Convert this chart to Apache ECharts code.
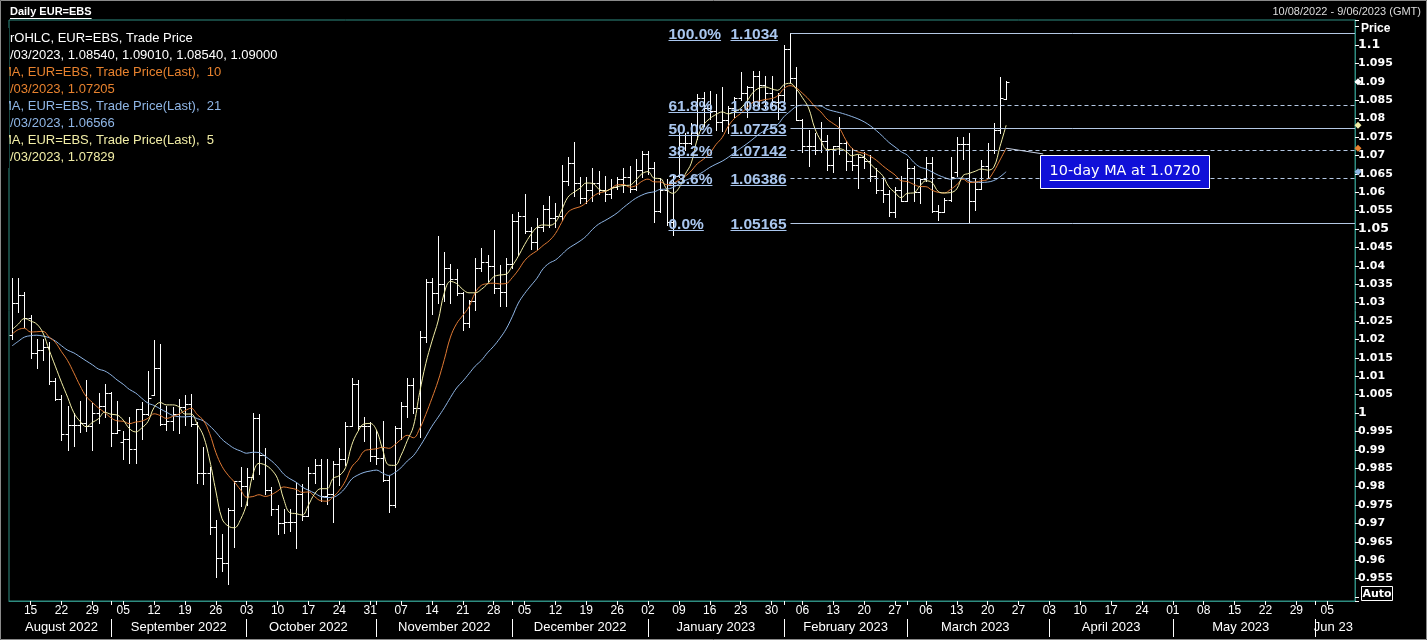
<!DOCTYPE html>
<html><head><meta charset="utf-8">
<script src="https://cdn.jsdelivr.net/npm/echarts/dist/echarts.min.js"></script>
<style>html,body{margin:0;padding:0;background:#000;}#c{width:1427px;height:640px;}</style>
</head><body><div id="c"></div>
<script>
// ---------- DATA ----------
// closes of the 20 trading days before 10 Aug 2022 (needed for the moving averages)
const priorCloses = [1.0062,1.0019,1.0080,1.0142,1.0226,1.0179,1.0230,1.0212,1.0222,1.0120,1.0198,1.0196,1.0223,1.0261,1.0163,1.0166,1.0245,1.0181,1.0196,1.0212];

const opens = [
 1.0212,1.0298,1.0320,1.0258,1.0162,1.0170,1.0178,1.0088,1.0038,0.9943,0.9966,0.9968,0.9972,0.9965,1.0000,1.0018,
 1.0055,0.9945,0.9920,0.9930,0.9903,1.0010,0.9998,1.0050,1.0122,0.9970,0.9978,0.9998,1.0015,1.0025,0.9970,0.9837,0.9838,0.9690,0.9606,0.9593,0.9736,0.9815,
 0.9802,0.9825,0.9986,0.9887,0.9792,0.9740,0.9702,0.9705,0.9705,0.9780,0.9720,0.9838,0.9858,0.9775,0.9780,0.9860,0.9876,0.9965,1.0080,0.9965,0.9965,
 0.9883,0.9877,0.9818,0.9750,0.9960,1.0020,1.0075,1.0013,1.0207,1.0355,1.0325,1.0350,1.0395,1.0363,1.0325,1.0245,1.0305,1.0395,1.0410,1.0400,1.0340,1.0330,
 1.0405,1.0522,1.0535,1.0495,1.0465,1.0505,1.0555,1.0530,1.0535,1.0630,1.0680,1.0625,1.0585,1.0605,1.0625,1.0605,1.0595,1.0615,1.0635,1.0640,1.0610,1.0660,
 1.0705,1.0665,1.0550,1.0605,1.0520,1.0645,1.0735,1.0735,1.0760,1.0855,1.0830,1.0820,1.0790,1.0795,1.0830,1.0855,1.0870,1.0885,1.0915,1.0890,1.0870,1.0845,
 1.0865,1.0990,1.0910,1.0795,1.0725,1.0725,1.0715,1.0740,1.0675,1.0725,1.0735,1.0685,1.0675,1.0695,1.0685,1.0645,1.0605,1.0595,1.0545,1.0605,
 1.0575,1.0665,1.0600,1.0635,1.0680,1.0550,1.0545,1.0580,1.0656,1.0730,1.0730,1.0575,1.0610,1.0670,1.0715,1.0770,1.0854];
const highs = [
 1.0368,1.0368,1.0328,1.0267,1.0202,1.0202,1.0192,1.0096,1.0048,1.0018,0.9999,1.0033,1.0090,1.0028,1.0054,1.0080,
 1.0056,1.0033,0.9950,0.9990,1.0012,1.0030,1.0113,1.0198,1.0187,1.0020,1.0017,1.0037,1.0050,1.0051,0.9976,0.9907,0.9852,0.9710,0.9670,0.9743,0.9815,0.9854,
 0.9850,0.9999,0.9998,0.9904,0.9798,0.9750,0.9740,0.9740,0.9809,0.9807,0.9852,0.9875,0.9875,0.9875,0.9870,0.9905,0.9976,1.0094,1.0089,0.9990,0.9975,
 0.9955,0.9977,0.9830,0.9965,1.0030,1.0095,1.0095,1.0222,1.0365,1.0366,1.0481,1.0438,1.0405,1.0390,1.0330,1.0306,1.0420,1.0448,1.0430,1.0497,1.0403,1.0420,
 1.0540,1.0545,1.0595,1.0505,1.0530,1.0565,1.0590,1.0570,1.0673,1.0695,1.0737,1.0640,1.0640,1.0665,1.0657,1.0645,1.0635,1.0640,1.0665,1.0670,1.0690,1.0713,
 1.0713,1.0683,1.0639,1.0636,1.0650,1.0760,1.0760,1.0787,1.0868,1.0873,1.0875,1.0867,1.0887,1.0835,1.0860,1.0927,1.0888,1.0930,1.0930,1.0915,1.0915,1.0870,
 1.1000,1.1033,1.0940,1.0800,1.0769,1.0760,1.0790,1.0755,1.0725,1.0805,1.0740,1.0720,1.0700,1.0710,1.0700,1.0665,1.0640,1.0605,1.0615,1.0645,
 1.0690,1.0670,1.0635,1.0695,1.0695,1.0565,1.0585,1.0695,1.0750,1.0750,1.0760,1.0635,1.0688,1.0734,1.0788,1.0912,1.0901];
const lows = [
 1.0202,1.0275,1.0233,1.0150,1.0122,1.0144,1.0080,1.0034,0.9926,0.9900,0.9910,0.9948,0.9950,0.9900,0.9972,0.9990,
 0.9910,0.9945,0.9876,0.9865,0.9864,0.9930,0.9995,1.0050,0.9966,0.9955,0.9955,0.9945,0.9966,0.9965,0.9810,0.9808,0.9670,0.9553,0.9570,0.9536,0.9635,0.9748,
 0.9750,0.9820,0.9835,0.9780,0.9723,0.9670,0.9675,0.9680,0.9632,0.9710,0.9720,0.9810,0.9760,0.9752,0.9705,0.9805,0.9859,0.9964,0.9953,0.9925,0.9870,
 0.9860,0.9815,0.9730,0.9745,0.9930,0.9990,1.0000,0.9935,1.0193,1.0270,1.0300,1.0305,1.0300,1.0320,1.0225,1.0235,1.0280,1.0385,1.0360,1.0325,1.0290,1.0290,
 1.0395,1.0430,1.0490,1.0445,1.0445,1.0495,1.0505,1.0505,1.0525,1.0620,1.0590,1.0570,1.0570,1.0575,1.0595,1.0575,1.0585,1.0610,1.0600,1.0600,1.0605,1.0640,
 1.0650,1.0520,1.0545,1.0511,1.0483,1.0640,1.0715,1.0730,1.0745,1.0780,1.0800,1.0770,1.0765,1.0760,1.0805,1.0850,1.0805,1.0837,1.0835,1.0830,1.0835,1.0800,
 1.0840,1.0900,1.0795,1.0710,1.0670,1.0705,1.0710,1.0660,1.0655,1.0705,1.0660,1.0660,1.0612,1.0665,1.0630,1.0598,1.0573,1.0535,1.0533,1.0575,
 1.0575,1.0575,1.0570,1.0630,1.0545,1.0525,1.0545,1.0575,1.0645,1.0690,1.0516,1.0552,1.0610,1.0641,1.0706,1.0760,1.0854];
const closes = [
 1.0298,1.0320,1.0258,1.0162,1.0170,1.0178,1.0088,1.0038,0.9943,0.9966,0.9968,0.9972,0.9965,1.0000,1.0018,1.0055,
 0.9945,0.9955,0.9930,0.9903,1.0010,0.9998,1.0042,1.0122,0.9970,0.9978,0.9998,1.0015,1.0025,0.9970,0.9837,0.9838,0.9690,0.9606,0.9593,0.9736,0.9815,0.9802,
 0.9825,0.9986,0.9887,0.9792,0.9740,0.9702,0.9705,0.9705,0.9780,0.9720,0.9838,0.9858,0.9775,0.9780,0.9860,0.9876,0.9965,1.0080,0.9965,0.9965,0.9883,
 0.9877,0.9818,0.9750,0.9960,1.0020,1.0075,1.0013,1.0207,1.0355,1.0325,1.0350,1.0395,1.0363,1.0325,1.0245,1.0305,1.0395,1.0410,1.0400,1.0340,1.0330,1.0405,
 1.0522,1.0535,1.0495,1.0465,1.0505,1.0555,1.0530,1.0535,1.0630,1.0680,1.0625,1.0585,1.0605,1.0625,1.0605,1.0595,1.0615,1.0635,1.0640,1.0610,1.0660,1.0705,
 1.0665,1.0550,1.0605,1.0520,1.0645,1.0735,1.0735,1.0760,1.0855,1.0830,1.0820,1.0790,1.0795,1.0830,1.0855,1.0870,1.0885,1.0915,1.0890,1.0870,1.0845,1.0865,
 1.0990,1.0910,1.0795,1.0725,1.0725,1.0715,1.0740,1.0675,1.0725,1.0735,1.0685,1.0675,1.0695,1.0685,1.0645,1.0605,1.0595,1.0545,1.0605,1.0575,
 1.0665,1.0600,1.0635,1.0680,1.0550,1.0545,1.0580,1.0640,1.0730,1.0730,1.0575,1.0610,1.0670,1.0715,1.0770,1.0855,1.0900];

// Fibonacci retracement (anchored at the 2 Feb 2023 high)
const fibStartDate = '2023-02-02';
const fibLevels = [1.1034, 1.08363, 1.07753, 1.07142, 1.06386, 1.05165];
const fibValueText = ['1.1034', '1.08363', '1.07753', '1.07142', '1.06386', '1.05165'];
const fibPctText = ['100.0%', '61.8%', '50.0%', '38.2%', '23.6%', '0.0%'];
const fibDashed = [false, true, false, true, true, false];

const monthLabels = {'2022-08':'August 2022','2022-09':'September 2022','2022-10':'October 2022','2022-11':'November 2022','2022-12':'December 2022','2023-01':'January 2023','2023-02':'February 2023','2023-03':'March 2023','2023-04':'April 2023','2023-05':'May 2023','2023-06':'Jun 23'};

const legendLines = [
 ['rOHLC, EUR=EBS, Trade Price', '#ffffff', 10],
 ['/03/2023, 1.08540, 1.09010, 1.08540, 1.09000', '#ffffff', 10],
 ['MA, EUR=EBS, Trade Price(Last),  10', '#e8822e', 1],
 ['/03/2023, 1.07205', '#e8822e', 10],
 ['MA, EUR=EBS, Trade Price(Last),  21', '#8fb6e6', 1],
 ['/03/2023, 1.06566', '#8fb6e6', 10],
 ['MA, EUR=EBS, Trade Price(Last),  5', '#f2eea6', 1],
 ['/03/2023, 1.07829', '#f2eea6', 10]
];
const annotationText = '10-day MA at 1.0720';

// ---------- category axis: every weekday 10/08/2022 - 09/06/2023 ----------
const dates = [];
for (let t = Date.UTC(2022,7,10); t <= Date.UTC(2023,5,9); t += 86400000) {
  const d = new Date(t), wd = d.getUTCDay();
  if (wd !== 0 && wd !== 6) dates.push(d.toISOString().slice(0,10));
}
const isMonday = dates.map(s => new Date(s + 'T00:00:00Z').getUTCDay() === 1);
const isMonthStart = dates.map((s,i) => i > 0 && s.slice(0,7) !== dates[i-1].slice(0,7));
const monthGroups = {};
dates.forEach((s,i) => { const k = s.slice(0,7); (monthGroups[k] = monthGroups[k] || []).push(i); });
const monthMid = new Set(Object.values(monthGroups).map(a => Math.round((a[0] + a[a.length-1]) / 2)));

// moving averages of the closes
function sma(n) {
  const all = priorCloses.concat(closes), off = priorCloses.length;
  return closes.map((_, i) => { let s = 0; for (let k = 0; k < n; k++) s += all[off + i - k]; return +(s / n).toFixed(5); });
}
const ma5 = sma(5), ma10 = sma(10), ma21 = sma(21);
const lastIdx = closes.length - 1;

const _ctx = document.createElement('canvas').getContext('2d');
function textW(t, font) { _ctx.font = font; return _ctx.measureText(t).width; }

const teal = '#2e8c80';
const chart = echarts.init(document.getElementById('c'), null, {renderer: 'canvas'});

const fibFont = 'bold 15.5px "Liberation Sans"';
const fibLabColor = '#a9c6ee';
const fibLineColor = '#b4c8e4';

const option = {
  backgroundColor: '#000',
  animation: false,
  grid: {left: 9, right: 72, top: 20, bottom: 39, show: true, borderColor: teal, borderWidth: 1, backgroundColor: '#000'},
  xAxis: [{
    type: 'category', data: dates, boundaryGap: true, position: 'bottom',
    axisLine: {show: true, lineStyle: {color: teal}},
    axisTick: {show: true, alignWithLabel: true, length: 4, lineStyle: {color: '#ffffff'},
      interval: (i) => isMonday[i] || isMonthStart[i]},
    axisLabel: {show: true, color: '#ffffff', fontFamily: 'Liberation Sans', fontSize: 12, margin: 4,
      interval: (i) => isMonday[i], formatter: (v) => v.slice(8,10)},
    splitLine: {show: false}
  }, {
    type: 'category', data: dates, boundaryGap: true, position: 'bottom', offset: 18,
    axisLine: {show: false},
    axisTick: {show: true, alignWithLabel: true, length: 18, lineStyle: {color: '#ffffff'},
      interval: (i) => isMonthStart[i]},
    axisLabel: {show: true, color: '#ffffff', fontFamily: 'Liberation Sans', fontSize: 13, margin: 2,
      interval: (i) => monthMid.has(i), formatter: (v) => monthLabels[v.slice(0,7)]},
    splitLine: {show: false}
  }],
  yAxis: {
    type: 'value', position: 'right', min: 0.9489, max: 1.1068, splitNumber: 30,
    axisLine: {show: true, lineStyle: {color: teal}},
    axisTick: {show: true, length: 4, lineStyle: {color: '#ffffff'}},
    splitLine: {show: false},
    axisLabel: {
      color: '#ffffff', fontFamily: 'DejaVu Sans', fontWeight: 'bold', fontSize: 11, margin: 3,
      formatter: function (v) {
        if (v > 1.1005 || v < 0.9545) return '';
        const r = Math.round(v * 1000) / 1000;
        const s = String(r);
        if (Math.abs(r * 20 - Math.round(r * 20)) < 1e-6) return '{b|' + s + '}';
        return s;
      },
      rich: {b: {fontSize: 12.5, fontWeight: 'bold', fontFamily: 'DejaVu Sans', color: '#ffffff'}}
    }
  },
  series: [
    {
      name: 'OHLC', type: 'custom', clip: true,
      data: closes.map((c, i) => [i, opens[i], highs[i], lows[i], c]),
      encode: {x: 0, y: [1, 2, 3, 4]},
      renderItem: function (params, api) {
        const i = api.value(0);
        const o = api.coord([i, api.value(1)]), h = api.coord([i, api.value(2)]);
        const l = api.coord([i, api.value(3)]), c = api.coord([i, api.value(4)]);
        const x = Math.round(h[0]) + 0.5, w = 3;
        const st = {stroke: '#ffffff', lineWidth: 1};
        const yo = Math.round(o[1]) + 0.5, yc = Math.round(c[1]) + 0.5;
        return {type: 'group', children: [
          {type: 'line', shape: {x1: x, y1: Math.round(h[1]), x2: x, y2: Math.round(l[1]) + 1}, style: st},
          {type: 'line', shape: {x1: x - w, y1: yo, x2: x, y2: yo}, style: st},
          {type: 'line', shape: {x1: x, y1: yc, x2: x + w, y2: yc}, style: st}
        ]};
      },
      z: 2
    },
    {name: 'MA21', type: 'line', data: ma21, showSymbol: false, smooth: 0.4, lineStyle: {color: '#8fb6e6', width: 1}, z: 3},
    {name: 'MA10', type: 'line', data: ma10, showSymbol: false, smooth: 0.4, lineStyle: {color: '#e07a34', width: 1}, z: 3,
      markLine: {silent: true, animation: false, symbol: ['none', 'none'], label: {show: false},
        lineStyle: {color: '#c8d2e6', width: 1, type: 'solid'},
        data: [[{coord: [dates[lastIdx], ma10[lastIdx]]}, {coord: [dates[167], 1.0704]}]]}},
    {name: 'MA5', type: 'line', data: ma5, showSymbol: false, smooth: 0.4, lineStyle: {color: '#f2eea6', width: 1}, z: 3},
    {
      name: 'Fib', type: 'custom', clip: false, z: 4,
      data: fibLevels.map(v => [fibStartDate, v]),
      encode: {x: 0, y: 1},
      renderItem: function (params, api) {
        const k = params.dataIndex;
        const p = api.coord([api.value(0), api.value(1)]);
        const cs = params.coordSys;
        const y = Math.round(p[1]) + 0.5, x0 = Math.round(p[0]) + 0.5, x1 = cs.x + cs.width;
        const px = x0 - 122, vx = x0 - 60;
        const pw = textW(fibPctText[k], fibFont), vw = textW(fibValueText[k], fibFont);
        const ls = {stroke: fibLineColor, lineWidth: 1};
        if (fibDashed[k]) ls.lineDash = [4, 3];
        return {type: 'group', children: [
          {type: 'line', shape: {x1: x0, y1: y, x2: x1, y2: y}, style: ls},
          {type: 'text', style: {text: fibPctText[k], x: px, y: y + 1, font: fibFont, fill: fibLabColor, align: 'left', verticalAlign: 'middle'}},
          {type: 'text', style: {text: fibValueText[k], x: vx, y: y + 1, font: fibFont, fill: fibLabColor, align: 'left', verticalAlign: 'middle'}},
          {type: 'line', shape: {x1: px, y1: y + 7, x2: px + pw, y2: y + 7}, style: {stroke: fibLabColor, lineWidth: 1}},
          {type: 'line', shape: {x1: vx, y1: y + 7, x2: vx + vw, y2: y + 7}, style: {stroke: fibLabColor, lineWidth: 1}}
        ]};
      }
    },
    {
      name: 'LastMarkers', type: 'custom', clip: false, z: 5,
      data: [[dates[lastIdx], closes[lastIdx], 0], [dates[lastIdx], ma5[lastIdx], 1], [dates[lastIdx], ma10[lastIdx], 2], [dates[lastIdx], ma21[lastIdx], 3]],
      encode: {x: 0, y: 1},
      renderItem: function (params, api) {
        const colors = ['#ffffff', '#f2eea6', '#e8822e', '#8fb6e6'];
        const y = api.coord([api.value(0), api.value(1)])[1];
        const x = params.coordSys.x + params.coordSys.width + 3, r = 3.5;
        return {type: 'polygon', shape: {points: [[x, y - r], [x + r, y], [x, y + r], [x - r, y]]}, style: {fill: colors[params.dataIndex]}};
      }
    }
  ],
  graphic: []
};

const g = option.graphic;
g.push({type: 'rect', shape: {x: 0.5, y: 0.5, width: 1426, height: 639}, style: {fill: 'none', stroke: '#8a8a8a', lineWidth: 1}, z: 50, silent: true});
// header
const hFont = 'bold 11px "Liberation Sans"';
g.push({type: 'text', x: 10, y: 12, style: {text: 'Daily EUR=EBS', font: hFont, fill: '#ffffff', align: 'left', verticalAlign: 'middle'}, z: 60});
g.push({type: 'line', shape: {x1: 10, y1: 18.5, x2: 10 + textW('Daily EUR=EBS', hFont), y2: 18.5}, style: {stroke: '#ffffff', lineWidth: 1}, z: 60});
g.push({type: 'text', x: 1421, y: 12, style: {text: '10/08/2022 - 9/06/2023 (GMT)', font: '11px "Liberation Sans"', fill: '#dcdcdc', align: 'right', verticalAlign: 'middle'}, z: 60});
// legend block
legendLines.forEach((L, i) => {
  g.push({type: 'text', x: L[2], y: 38 + i * 17, style: {text: L[0], font: '13px "Liberation Sans"', fill: L[1], align: 'left', verticalAlign: 'middle'}, z: 60});
});
g.push({type: 'rect', shape: {x: 1.5, y: 28, width: 7.5, height: 140}, style: {fill: '#000'}, z: 61});
// price title & Auto box
g.push({type: 'text', x: 1361, y: 29, style: {text: 'Price', font: 'bold 12px "Liberation Sans"', fill: '#ffffff', align: 'left', verticalAlign: 'middle'}, z: 60});
g.push({type: 'rect', shape: {x: 1361.5, y: 586.5, width: 31, height: 14}, style: {fill: '#000', stroke: '#ffffff', lineWidth: 1}, z: 60});
g.push({type: 'text', x: 1377, y: 594, style: {text: 'Auto', font: 'bold 11px "DejaVu Sans"', fill: '#ffffff', align: 'center', verticalAlign: 'middle'}, z: 61});
// annotation box
const aFont = '14.4px "DejaVu Sans"';
const aw = textW(annotationText, aFont);
g.push({type: 'rect', shape: {x: 1040.5, y: 155.5, width: 169, height: 33}, style: {fill: '#1010d8', stroke: '#ffffff', lineWidth: 1}, z: 100});
g.push({type: 'text', x: 1125, y: 171, style: {text: annotationText, font: aFont, fill: '#ffffff', align: 'center', verticalAlign: 'middle'}, z: 101});
g.push({type: 'line', shape: {x1: 1125 - aw / 2, y1: 180.5, x2: 1125 + aw / 2, y2: 180.5}, style: {stroke: '#ffffff', lineWidth: 1}, z: 101});

chart.setOption(option);
</script></body></html>
